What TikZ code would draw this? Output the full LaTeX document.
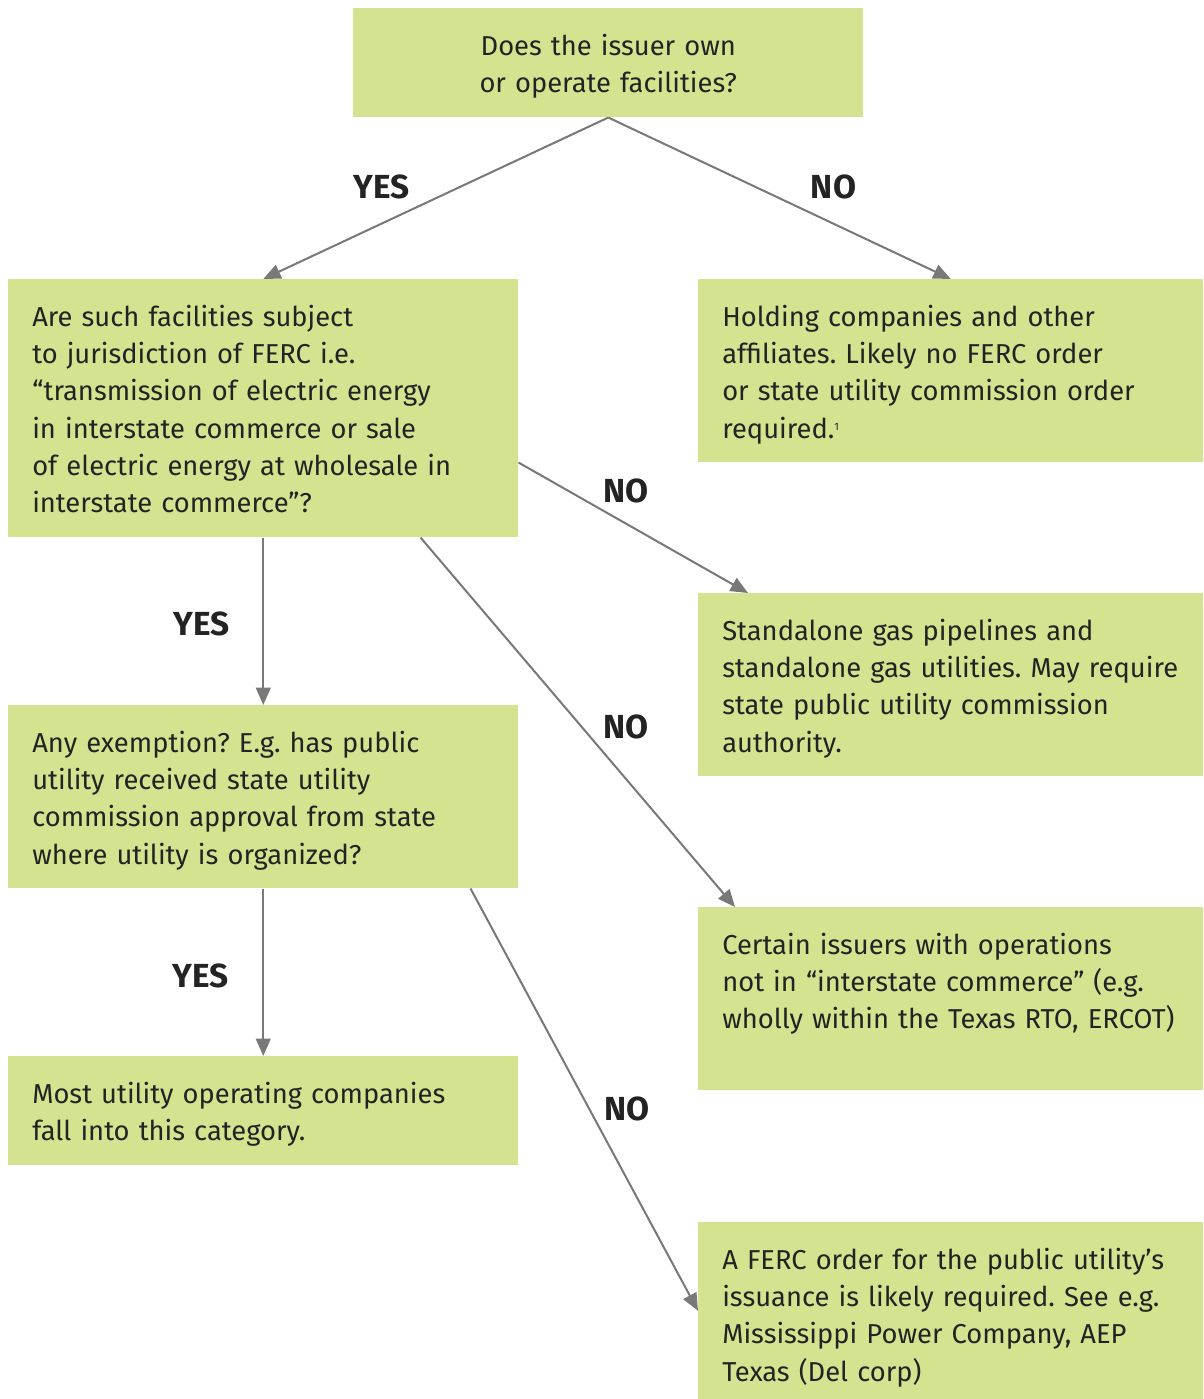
\documentclass[tikz,border=0pt]{standalone}
\usepackage{fontspec}
\setmainfont{Fira Sans}
\usetikzlibrary{arrows.meta,calc}
\definecolor{boxgreen}{RGB}{212,227,143}
\definecolor{inkgray}{RGB}{35,35,35}
\definecolor{arrowgray}{RGB}{120,120,120}
\frenchspacing

\begin{document}
\begin{tikzpicture}[
     x=0.75pt, y=-0.75pt,
     % define styles
     box/.style 2 args={
         fill=boxgreen, text=inkgray,
         anchor=north west, inner xsep=18pt, inner ysep=0pt,
         text width=#1, align=left,
         text height=35.25pt, text depth=#2,
         font=\fontsize{20.5}{28}\selectfont
     },
     lbl/.style={
         text=inkgray, inner sep=0pt,
         font=\fontsize{25}{28}\selectfont\bfseries
     },
     arr/.style={draw=arrowgray, line width=1.5pt, ->},
     >={Triangle[length=13pt,width=11pt]}
]
\useasboundingbox (0,0) rectangle (1203,1399);

% boxes
\node[box={346.5pt}{46.5pt}, align=center] (own) at (353,8) {Does the issuer own\\or operate facilities?};
\node[box={346.5pt}{158.25pt}] (ferc) at (8,279) {Are such facilities subject\\to jurisdiction of FERC i.e.\\“transmission of electric energy\\in interstate commerce or sale\\of electric energy at wholesale in\\interstate commerce”?};
\node[box={342.75pt}{102pt}] (hold) at (698,279) {Holding companies and other\\affiliates. Likely no FERC order\\or state utility commission order\\required.\raisebox{6pt}{\fontsize{8}{8}\selectfont 1}};
\node[box={342.75pt}{102pt}] (gas) at (698,593) {Standalone gas pipelines and\\standalone gas utilities. May require\\state public utility commission\\authority.};
\node[box={346.5pt}{102pt}] (exempt) at (8,705) {Any exemption? E.g. has public\\utility received state utility\\commission approval from state\\where utility is organized?};
\node[box={342.75pt}{102pt}] (interstate) at (698,907) {Certain issuers with operations\\not in “interstate commerce” (e.g.\\wholly within the Texas RTO, ERCOT)};
\node[box={346.5pt}{46.5pt}] (most) at (8,1056) {Most utility operating companies\\fall into this category.};
\node[box={342.75pt}{97.5pt}] (order) at (698,1222) {A FERC order for the public utility’s\\issuance is likely required. See e.g.\\Mississippi Power Company, AEP\\Texas (Del corp)};

% connectors
\draw[arr] (own.south) -- node[lbl, xshift=-40.5pt, yshift=8.25pt] (yes1) {YES} (ferc.north);
\draw[arr] (own.south) -- node[lbl, xshift=40.5pt, yshift=8.25pt] (no1) {NO} (hold.north);
\draw[arr] ($(ferc.north east)!0.71!(ferc.south east)$) -- node[lbl, xshift=-5.25pt, yshift=28pt] (no2) {NO} ([xshift=37.5pt]gas.north west);
\draw[arr] (ferc.south) -- node[lbl, xshift=-46.5pt, yshift=-2.25pt] (yes2) {YES} (exempt.north);
\draw[arr] ([xshift=-73.5pt]ferc.south east) -- node[lbl, xshift=36.4pt, yshift=-3.75pt] (no3) {NO} ([xshift=27.75pt]interstate.north west);
\draw[arr] (exempt.south) -- node[lbl, xshift=-47.25pt, yshift=-3pt] (yes3) {YES} (most.north);
\draw[arr] ([xshift=-36pt]exempt.south east) -- node[lbl, xshift=31.9pt, yshift=-6.75pt] (no4) {NO} (order.west);
\end{tikzpicture}
\end{document}
